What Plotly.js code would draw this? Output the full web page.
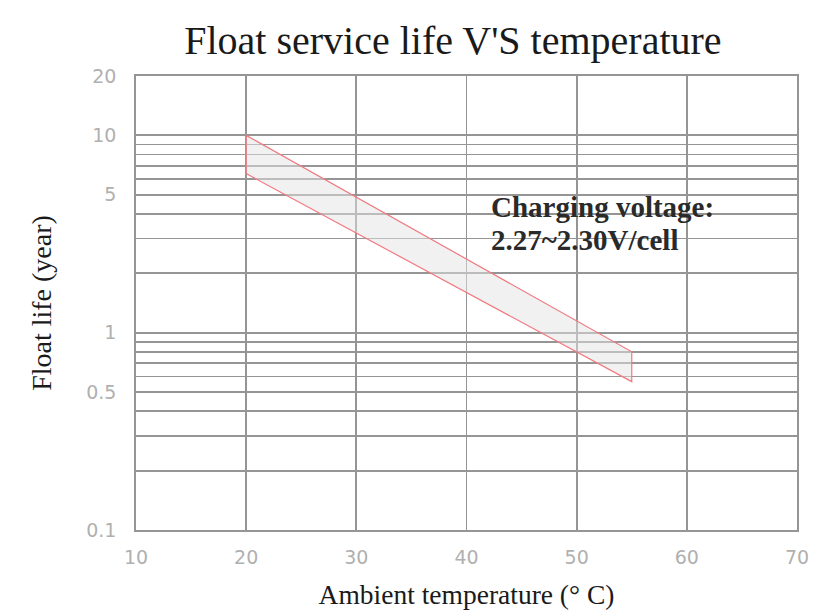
<!DOCTYPE html>
<html>
<head>
<meta charset="utf-8">
<script src="https://cdn.plot.ly/plotly-3.0.1.min.js"></script>
<style>html,body{margin:0;padding:0;background:#fff;}#chart{width:816px;height:616px;}</style>
</head>
<body>
<div id="chart"></div>
<script>
// Band outline: upper edge then lower edge (reversed), closed
const bandTemp = [20, 55, 55, 20, 20];
const bandLife = [10, 0.80, 0.565, 6.4, 10];

const xTickVals = [10, 20, 30, 40, 50, 60, 70];
const xTickText = ['10', '20', '30', '40', '50', '60', '70'];

const yTickVals = [0.1, 0.2, 0.3, 0.4, 0.5, 0.6, 0.7, 0.8, 0.9, 1, 2, 3, 4, 5, 6, 7, 8, 9, 10, 20];
const yTickText = ['0.1', '', '', '', '0.5', '', '', '', '', '1', '', '', '', '5', '', '', '', '', '10', '20'];

const titleText = "Float service life V'S temperature";
const xTitle = "Ambient temperature (° C)";
const yTitle = "Float life (year)";
const noteLines = ["Charging voltage:", "2.27~2.30V/cell"];

const serif = "'Liberation Serif', 'Times New Roman', serif";
const gridCol = '#959595';
const tickFont = {family: "'DejaVu Sans', sans-serif", size: 19, color: '#b0b0b0'};

const traces = [{
  type: 'scatter',
  mode: 'lines',
  x: bandTemp,
  y: bandLife,
  fill: 'toself',
  fillcolor: 'rgba(228,228,228,0.5)',
  line: {color: '#f07a80', width: 1.2},
  hoverinfo: 'skip',
  showlegend: false
}];

const layout = {
  width: 816,
  height: 616,
  paper_bgcolor: '#ffffff',
  plot_bgcolor: '#ffffff',
  margin: {l: 136, r: 19, t: 76, b: 86},
  showlegend: false,
  title: {
    text: titleText,
    font: {family: serif, size: 40, color: '#1a1a1a'},
    xref: 'container', x: 0.555, xanchor: 'center',
    yref: 'container', y: 0.935, yanchor: 'middle'
  },
  xaxis: {
    range: [10, 70],
    tickvals: xTickVals,
    ticktext: xTickText,
    tickfont: tickFont,
    ticks: '', ticklen: 0,
    ticklabelstandoff: 9,
    showgrid: true, gridcolor: gridCol, gridwidth: 1.8,
    showline: true, linecolor: gridCol, linewidth: 1.8, mirror: true,
    zeroline: false,
    title: {text: xTitle, font: {family: serif, size: 27.5, color: '#1a1a1a'}, standoff: 18},
    fixedrange: true
  },
  yaxis: {
    type: 'log',
    range: [-1, Math.log10(20)],
    tickvals: yTickVals,
    ticktext: yTickText,
    tickfont: tickFont,
    ticks: '', ticklen: 0,
    ticklabelstandoff: 14,
    showgrid: true, gridcolor: gridCol, gridwidth: 1.8,
    showline: true, linecolor: gridCol, linewidth: 1.8, mirror: true,
    zeroline: false,
    title: {text: yTitle, font: {family: serif, size: 28, color: '#1a1a1a'}, standoff: 26},
    fixedrange: true
  },
  annotations: [
    {
      text: noteLines[0],
      xref: 'x', yref: 'y',
      x: 42.0, y: Math.log10(4.33),
      xanchor: 'left', yanchor: 'middle',
      showarrow: false,
      font: {family: serif, size: 29, color: '#2a2a2a', weight: 'bold'}
    },
    {
      text: noteLines[1],
      xref: 'x', yref: 'y',
      x: 42.0, y: Math.log10(2.95),
      xanchor: 'left', yanchor: 'middle',
      showarrow: false,
      font: {family: serif, size: 29, color: '#2a2a2a', weight: 'bold'}
    }
  ]
};

Plotly.newPlot('chart', traces, layout, {displayModeBar: false, staticPlot: true});
</script>
</body>
</html>
